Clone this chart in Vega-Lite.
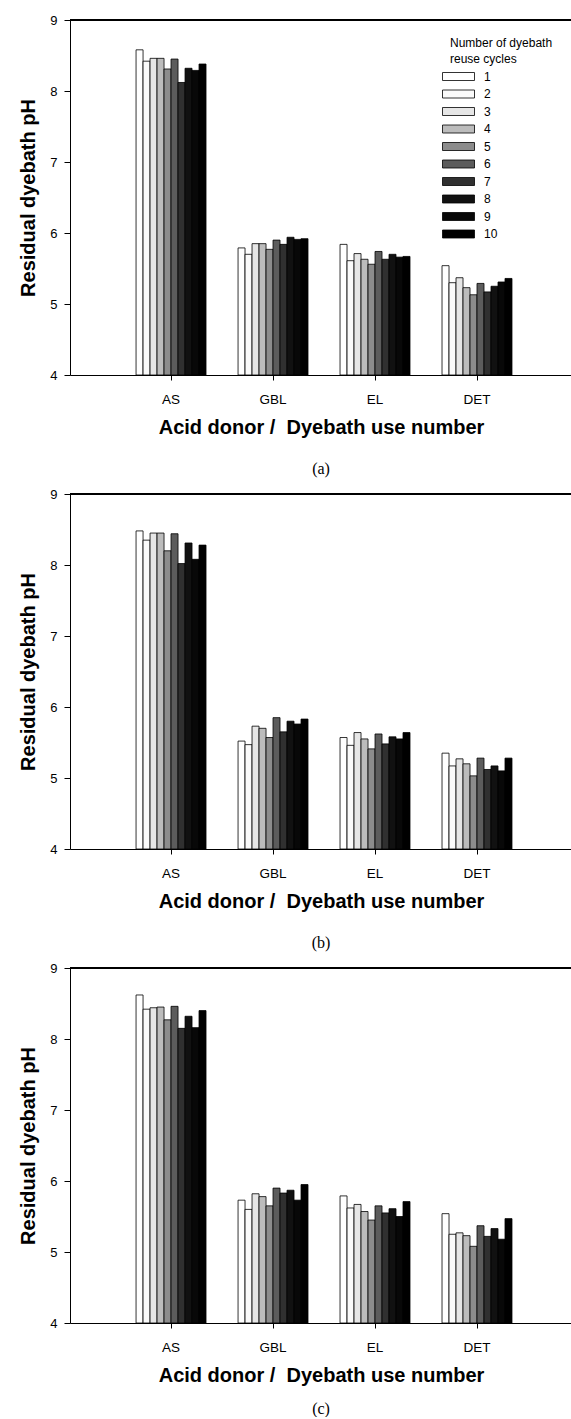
{
"$schema": "https://vega.github.io/schema/vega-lite/v6.json",
"padding": {"left": 18, "top": 14, "right": 0, "bottom": 0},
"background": "white",
"config": {
  "font": "Liberation Sans",
  "view": {"stroke": null},
  "axis": {"domainColor": "black", "tickColor": "black", "labelColor": "black", "titleColor": "black", "grid": false, "labelFont": "Liberation Sans", "titleFont": "Liberation Sans"},
  "axisX": {"labelAngle": 0, "labelFontSize": 13.5, "ticks": true, "tickSize": 5, "labelPadding": 12, "titleFontSize": 20, "titleFontWeight": "bold", "titlePadding": 12},
  "axisY": {"labelFontSize": 13, "tickSize": 6, "labelPadding": 7, "titleFontSize": 20, "titleFontWeight": "bold", "titlePadding": 11},
  "bar": {"stroke": "black", "strokeWidth": 0.8},
  "title": {"orient": "bottom", "font": "Liberation Serif", "fontSize": 16, "fontWeight": "normal", "color": "black", "offset": 23},
  "concat": {"spacing": 11}
},
"datasets": {
  "a": [
    {"donor":"AS","cycle":1,"pH":8.58},{"donor":"AS","cycle":2,"pH":8.42},{"donor":"AS","cycle":3,"pH":8.46},{"donor":"AS","cycle":4,"pH":8.46},{"donor":"AS","cycle":5,"pH":8.31},{"donor":"AS","cycle":6,"pH":8.45},{"donor":"AS","cycle":7,"pH":8.12},{"donor":"AS","cycle":8,"pH":8.32},{"donor":"AS","cycle":9,"pH":8.29},{"donor":"AS","cycle":10,"pH":8.38},
    {"donor":"GBL","cycle":1,"pH":5.79},{"donor":"GBL","cycle":2,"pH":5.70},{"donor":"GBL","cycle":3,"pH":5.85},{"donor":"GBL","cycle":4,"pH":5.85},{"donor":"GBL","cycle":5,"pH":5.77},{"donor":"GBL","cycle":6,"pH":5.90},{"donor":"GBL","cycle":7,"pH":5.84},{"donor":"GBL","cycle":8,"pH":5.94},{"donor":"GBL","cycle":9,"pH":5.91},{"donor":"GBL","cycle":10,"pH":5.92},
    {"donor":"EL","cycle":1,"pH":5.84},{"donor":"EL","cycle":2,"pH":5.61},{"donor":"EL","cycle":3,"pH":5.71},{"donor":"EL","cycle":4,"pH":5.63},{"donor":"EL","cycle":5,"pH":5.56},{"donor":"EL","cycle":6,"pH":5.74},{"donor":"EL","cycle":7,"pH":5.63},{"donor":"EL","cycle":8,"pH":5.70},{"donor":"EL","cycle":9,"pH":5.66},{"donor":"EL","cycle":10,"pH":5.67},
    {"donor":"DET","cycle":1,"pH":5.54},{"donor":"DET","cycle":2,"pH":5.30},{"donor":"DET","cycle":3,"pH":5.37},{"donor":"DET","cycle":4,"pH":5.23},{"donor":"DET","cycle":5,"pH":5.13},{"donor":"DET","cycle":6,"pH":5.29},{"donor":"DET","cycle":7,"pH":5.17},{"donor":"DET","cycle":8,"pH":5.25},{"donor":"DET","cycle":9,"pH":5.31},{"donor":"DET","cycle":10,"pH":5.36}
  ],
  "b": [
    {"donor":"AS","cycle":1,"pH":8.48},{"donor":"AS","cycle":2,"pH":8.35},{"donor":"AS","cycle":3,"pH":8.45},{"donor":"AS","cycle":4,"pH":8.45},{"donor":"AS","cycle":5,"pH":8.20},{"donor":"AS","cycle":6,"pH":8.44},{"donor":"AS","cycle":7,"pH":8.02},{"donor":"AS","cycle":8,"pH":8.31},{"donor":"AS","cycle":9,"pH":8.08},{"donor":"AS","cycle":10,"pH":8.28},
    {"donor":"GBL","cycle":1,"pH":5.52},{"donor":"GBL","cycle":2,"pH":5.47},{"donor":"GBL","cycle":3,"pH":5.73},{"donor":"GBL","cycle":4,"pH":5.70},{"donor":"GBL","cycle":5,"pH":5.57},{"donor":"GBL","cycle":6,"pH":5.85},{"donor":"GBL","cycle":7,"pH":5.65},{"donor":"GBL","cycle":8,"pH":5.80},{"donor":"GBL","cycle":9,"pH":5.76},{"donor":"GBL","cycle":10,"pH":5.83},
    {"donor":"EL","cycle":1,"pH":5.57},{"donor":"EL","cycle":2,"pH":5.46},{"donor":"EL","cycle":3,"pH":5.64},{"donor":"EL","cycle":4,"pH":5.55},{"donor":"EL","cycle":5,"pH":5.41},{"donor":"EL","cycle":6,"pH":5.62},{"donor":"EL","cycle":7,"pH":5.48},{"donor":"EL","cycle":8,"pH":5.58},{"donor":"EL","cycle":9,"pH":5.55},{"donor":"EL","cycle":10,"pH":5.64},
    {"donor":"DET","cycle":1,"pH":5.35},{"donor":"DET","cycle":2,"pH":5.17},{"donor":"DET","cycle":3,"pH":5.27},{"donor":"DET","cycle":4,"pH":5.20},{"donor":"DET","cycle":5,"pH":5.03},{"donor":"DET","cycle":6,"pH":5.28},{"donor":"DET","cycle":7,"pH":5.12},{"donor":"DET","cycle":8,"pH":5.17},{"donor":"DET","cycle":9,"pH":5.10},{"donor":"DET","cycle":10,"pH":5.28}
  ],
  "c": [
    {"donor":"AS","cycle":1,"pH":8.62},{"donor":"AS","cycle":2,"pH":8.42},{"donor":"AS","cycle":3,"pH":8.44},{"donor":"AS","cycle":4,"pH":8.45},{"donor":"AS","cycle":5,"pH":8.27},{"donor":"AS","cycle":6,"pH":8.46},{"donor":"AS","cycle":7,"pH":8.15},{"donor":"AS","cycle":8,"pH":8.32},{"donor":"AS","cycle":9,"pH":8.16},{"donor":"AS","cycle":10,"pH":8.40},
    {"donor":"GBL","cycle":1,"pH":5.73},{"donor":"GBL","cycle":2,"pH":5.60},{"donor":"GBL","cycle":3,"pH":5.82},{"donor":"GBL","cycle":4,"pH":5.78},{"donor":"GBL","cycle":5,"pH":5.65},{"donor":"GBL","cycle":6,"pH":5.90},{"donor":"GBL","cycle":7,"pH":5.83},{"donor":"GBL","cycle":8,"pH":5.87},{"donor":"GBL","cycle":9,"pH":5.73},{"donor":"GBL","cycle":10,"pH":5.95},
    {"donor":"EL","cycle":1,"pH":5.79},{"donor":"EL","cycle":2,"pH":5.62},{"donor":"EL","cycle":3,"pH":5.67},{"donor":"EL","cycle":4,"pH":5.57},{"donor":"EL","cycle":5,"pH":5.45},{"donor":"EL","cycle":6,"pH":5.65},{"donor":"EL","cycle":7,"pH":5.55},{"donor":"EL","cycle":8,"pH":5.61},{"donor":"EL","cycle":9,"pH":5.50},{"donor":"EL","cycle":10,"pH":5.71},
    {"donor":"DET","cycle":1,"pH":5.54},{"donor":"DET","cycle":2,"pH":5.25},{"donor":"DET","cycle":3,"pH":5.27},{"donor":"DET","cycle":4,"pH":5.23},{"donor":"DET","cycle":5,"pH":5.08},{"donor":"DET","cycle":6,"pH":5.37},{"donor":"DET","cycle":7,"pH":5.22},{"donor":"DET","cycle":8,"pH":5.33},{"donor":"DET","cycle":9,"pH":5.18},{"donor":"DET","cycle":10,"pH":5.47}
  ]
},
"resolve": {"scale": {"fill": "independent"}, "legend": {"fill": "independent"}},
"vconcat": [
  {
    "width": 502, "height": 355,
    "title": {"text": "(a)"},
    "data": {"name": "a"},
    "layer": [
      {"mark": {"type": "bar"},
       "encoding": {
         "x": {"field": "donor", "type": "nominal", "sort": ["AS","GBL","EL","DET"], "title": "Acid donor /\u00a0 Dyebath use number",
               "scale": {"paddingInner": 0.314, "paddingOuter": 0.618, "align": 0.524}},
         "xOffset": {"field": "cycle", "type": "ordinal", "scale": {"paddingInner": 0, "paddingOuter": 0}},
         "y": {"field": "pH", "type": "quantitative", "title": "Residual dyebath pH",
               "scale": {"domain": [4, 9], "zero": false, "nice": false, "clamp": true},
               "axis": {"values": [4,5,6,7,8,9], "format": "d"}},
         "fill": {"field": "cycle", "type": "ordinal",
                  "scale": {"domain": [1,2,3,4,5,6,7,8,9,10], "range": ["#ffffff","#fafafa","#e6e6e6","#bcbcbc","#8c8c8c","#5c5c5c","#303030","#111111","#080808","#000000"]},
                  "legend": {"orient": "none", "legendX": 380, "legendY": 18, "title": ["Number of dyebath", "reuse cycles"],
                             "titleFontSize": 12, "titleFontWeight": "normal", "titleColor": "black", "titleLineHeight": 16, "titlePadding": 2,
                             "labelFontSize": 12, "labelColor": "black", "labelOffset": 17,
                             "symbolType": "M-2,-0.5H2V0.5H-2Z", "symbolSize": 256, "symbolStrokeColor": "black", "symbolStrokeWidth": 0.8, "rowPadding": 2.5}}
       }},
      {"mark": {"type": "rule", "color": "black", "strokeWidth": 1}, "encoding": {"y": {"datum": 9, "type": "quantitative", "title": "Residual dyebath pH"}}}
    ]
  },
  {
    "width": 502, "height": 355,
    "title": {"text": "(b)"},
    "data": {"name": "b"},
    "layer": [
      {"mark": {"type": "bar"},
       "encoding": {
         "x": {"field": "donor", "type": "nominal", "sort": ["AS","GBL","EL","DET"], "title": "Acid donor /\u00a0 Dyebath use number",
               "scale": {"paddingInner": 0.314, "paddingOuter": 0.618, "align": 0.524}},
         "xOffset": {"field": "cycle", "type": "ordinal", "scale": {"paddingInner": 0, "paddingOuter": 0}},
         "y": {"field": "pH", "type": "quantitative", "title": "Residual dyebath pH",
               "scale": {"domain": [4, 9], "zero": false, "nice": false, "clamp": true},
               "axis": {"values": [4,5,6,7,8,9], "format": "d"}},
         "fill": {"field": "cycle", "type": "ordinal",
                  "scale": {"domain": [1,2,3,4,5,6,7,8,9,10], "range": ["#ffffff","#fafafa","#e6e6e6","#bcbcbc","#8c8c8c","#5c5c5c","#303030","#111111","#080808","#000000"]},
                  "legend": null}
       }},
      {"mark": {"type": "rule", "color": "black", "strokeWidth": 1}, "encoding": {"y": {"datum": 9, "type": "quantitative", "title": "Residual dyebath pH"}}}
    ]
  },
  {
    "width": 502, "height": 355,
    "title": {"text": "(c)", "offset": 15},
    "data": {"name": "c"},
    "layer": [
      {"mark": {"type": "bar"},
       "encoding": {
         "x": {"field": "donor", "type": "nominal", "sort": ["AS","GBL","EL","DET"], "title": "Acid donor /\u00a0 Dyebath use number",
               "scale": {"paddingInner": 0.314, "paddingOuter": 0.618, "align": 0.524}},
         "xOffset": {"field": "cycle", "type": "ordinal", "scale": {"paddingInner": 0, "paddingOuter": 0}},
         "y": {"field": "pH", "type": "quantitative", "title": "Residual dyebath pH",
               "scale": {"domain": [4, 9], "zero": false, "nice": false, "clamp": true},
               "axis": {"values": [4,5,6,7,8,9], "format": "d"}},
         "fill": {"field": "cycle", "type": "ordinal",
                  "scale": {"domain": [1,2,3,4,5,6,7,8,9,10], "range": ["#ffffff","#fafafa","#e6e6e6","#bcbcbc","#8c8c8c","#5c5c5c","#303030","#111111","#080808","#000000"]},
                  "legend": null}
       }},
      {"mark": {"type": "rule", "color": "black", "strokeWidth": 1}, "encoding": {"y": {"datum": 9, "type": "quantitative", "title": "Residual dyebath pH"}}}
    ]
  }
]
}
